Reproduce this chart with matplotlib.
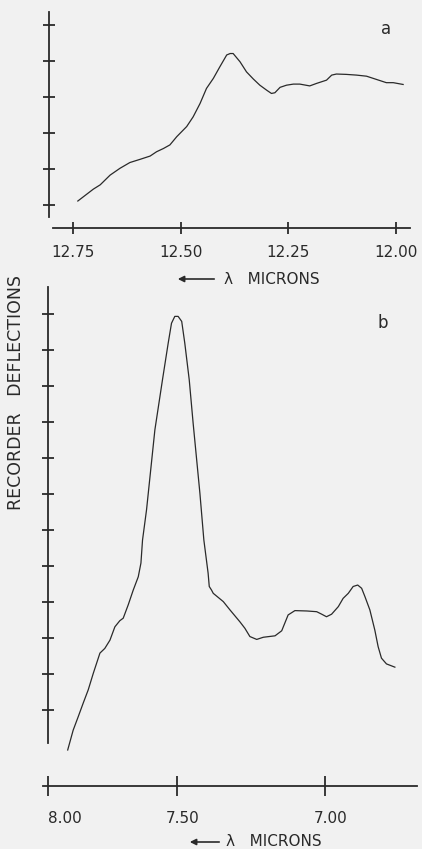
import matplotlib
matplotlib.use("Agg")
import matplotlib.pyplot as plt
import matplotlib.transforms as mtransforms
import numpy as np

# panel a: wavelength (microns) vs recorder deflection
wl_a = [12.739, 12.703, 12.687, 12.664, 12.641, 12.618, 12.594, 12.571, 12.556,
        12.540, 12.525, 12.509, 12.486, 12.471, 12.455, 12.440, 12.424, 12.409,
        12.393, 12.385, 12.378, 12.362, 12.347, 12.331, 12.316, 12.300, 12.289,
        12.281, 12.269, 12.254, 12.238, 12.223, 12.200, 12.184, 12.161, 12.149,
        12.138, 12.115, 12.091, 12.068, 12.045, 12.022, 12.006, 11.983]
defl_a = [0.11, 0.44, 0.56, 0.83, 1.02, 1.18, 1.27, 1.36, 1.48,
          1.57, 1.67, 1.90, 2.18, 2.45, 2.82, 3.24, 3.52, 3.84,
          4.17, 4.21, 4.21, 3.98, 3.70, 3.50, 3.33, 3.19, 3.10,
          3.12, 3.27, 3.33, 3.36, 3.36, 3.31, 3.38, 3.47, 3.61,
          3.64, 3.63, 3.61, 3.58, 3.49, 3.40, 3.40, 3.35]
ticks_a = [12.75, 12.50, 12.25, 12.00]
ticklabels_a = ["12.75", "12.50", "12.25", "12.00"]

# panel b
wl_b = [7.918, 7.896, 7.876, 7.856, 7.836, 7.816, 7.790, 7.771, 7.751, 7.732,
        7.713, 7.700, 7.681, 7.662, 7.643, 7.633, 7.627, 7.612, 7.581, 7.553,
        7.532, 7.520, 7.508, 7.496, 7.483, 7.472, 7.456, 7.442, 7.418, 7.404,
        7.389, 7.385, 7.377, 7.371, 7.336, 7.313, 7.279, 7.262, 7.245, 7.222,
        7.200, 7.161, 7.139, 7.118, 7.096, 7.058, 7.026, 7.010, 6.995, 6.979,
        6.958, 6.943, 6.927, 6.912, 6.898, 6.886, 6.876, 6.861, 6.846, 6.836,
        6.826, 6.811, 6.786]
defl_b = [-1.11, -0.56, -0.19, 0.19, 0.56, 1.02, 1.58, 1.71, 1.94, 2.31,
          2.48, 2.55, 2.92, 3.33, 3.70, 4.08, 4.72, 5.56, 7.78, 9.17,
          10.19, 10.74, 10.93, 10.93, 10.79, 10.19, 9.17, 7.96, 6.02, 4.72,
          3.80, 3.43, 3.33, 3.24, 3.01, 2.78, 2.45, 2.27, 2.04, 1.96,
          2.02, 2.06, 2.20, 2.64, 2.76, 2.75, 2.73, 2.66, 2.59, 2.66,
          2.87, 3.10, 3.24, 3.43, 3.47, 3.38, 3.15, 2.78, 2.22, 1.76,
          1.44, 1.28, 1.19]
ticks_b = [8.00, 7.50, 7.00]
ticklabels_b = ["8.00", "7.50", "7.00"]

W, H = 422, 849
bg = "#f1f1f1"
ink = "#2a2a2a"
plt.rcParams["font.family"] = ["DejaVu Sans"]

fig = plt.figure(figsize=(W / 100, H / 100), dpi=100, facecolor=bg)


def box(x0, y0, x1, y1):
    # pixel box -> figure fraction rect
    return [x0 / W, 1 - y1 / H, (x1 - x0) / W, (y1 - y0) / H]


def style(ax):
    ax.set_facecolor(bg)
    for s in ["top", "right"]:
        ax.spines[s].set_visible(False)
    for s in ["left", "bottom"]:
        ax.spines[s].set_linewidth(1.3)
        ax.spines[s].set_color(ink)
    ax.tick_params(axis="both", direction="inout", width=1.3, color=ink,
                   labelcolor=ink, labelsize=11)
    ax.tick_params(axis="y", length=9, labelleft=False)


# ---- panel a ----
ax1 = fig.add_axes(box(49, 10, 410, 228))
style(ax1)
ax1.plot(wl_a, defl_a, color=ink, lw=0.9)
ax1.set_xlim(12.806, 11.967)
ax1.set_ylim(-0.64, 5.42)
ax1.spines["left"].set_bounds(-0.33, 5.37)
ax1.spines["bottom"].set_bounds(12.796, 11.967)
ax1.set_yticks(range(6))
ax1.set_xticks(ticks_a)
ax1.set_xticklabels(ticklabels_a)
ax1.tick_params(axis="x", length=8, pad=8)
ax1.text(0.92, 0.89, "a", transform=ax1.transAxes, fontsize=12, color=ink)


# ---- panel b (scale linear in wavenumber) ----
def fwd(x):
    x = np.asarray(x, dtype=float)
    with np.errstate(divide="ignore", invalid="ignore"):
        return -1.0 / x


ax2 = fig.add_axes(box(43, 280, 417, 786))
style(ax2)
ax2.set_xscale("function", functions=(fwd, fwd))
ax2.plot(wl_b, defl_b, color=ink, lw=0.9)
ax2.set_xlim(8.019, 6.721)
ax2.set_ylim(-2.11, 11.94)
ax2.spines["left"].set_position(("data", 7.999))
ax2.spines["left"].set_bounds(-0.92, 11.75)
ax2.set_yticks(range(12))
ax2.set_xticks(ticks_b)
ax2.set_xticklabels(ticklabels_b)
ax2.tick_params(axis="x", length=14, pad=11)
ax2.xaxis.set_minor_locator(matplotlib.ticker.NullLocator())
ax2.yaxis.set_minor_locator(matplotlib.ticker.NullLocator())
shift = mtransforms.ScaledTranslation(6 / 100, 0, fig.dpi_scale_trans)
for i, lab in enumerate(ax2.get_xticklabels()):
    if i == 0:
        lab.set_horizontalalignment("left")
    else:
        lab.set_transform(lab.get_transform() + shift)
ax2.text(0.895, 0.905, "b", transform=ax2.transAxes, fontsize=12, color=ink)

# ---- axis captions ----
for ya, x_from, x_to, x_txt in [(279, 217, 175, 224), (842, 222, 187, 226)]:
    fig.add_artist(matplotlib.patches.FancyArrowPatch(
        (x_from / W, 1 - ya / H), (x_to / W, 1 - ya / H),
        transform=fig.transFigure, arrowstyle="-|>", mutation_scale=9,
        lw=1.2, color=ink))
    fig.text(x_txt / W, 1 - ya / H, "\u03bb   MICRONS", fontsize=11,
             color=ink, va="center", ha="left")

fig.text(16 / W, 1 - 393 / H, "RECORDER   DEFLECTIONS", rotation=90,
         fontsize=12.5, color=ink, va="center", ha="center")

fig.savefig("out.png", dpi=100, facecolor=bg)
